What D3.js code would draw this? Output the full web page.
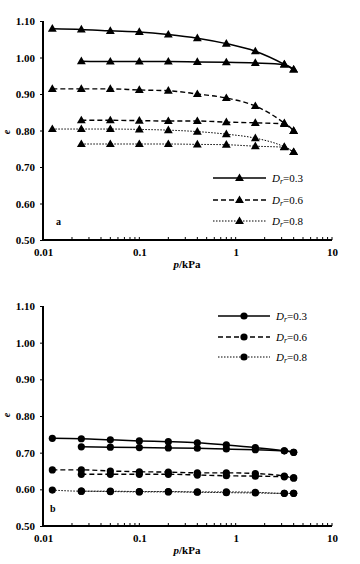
<!DOCTYPE html>
<html><head><meta charset="utf-8">
<script src="https://cdn.jsdelivr.net/npm/d3@7"></script>
<style>body{margin:0;background:#fff}svg{display:block}</style>
</head><body>
<script>
// ---- data ----
const pLoad = [0.0125,0.025,0.05,0.1,0.2,0.4,0.8,1.6,3.2,4.0];
const pUnload = [4.0,3.2,1.6,0.8,0.4,0.2,0.1,0.05,0.025];
const xTicks = [0.01,0.1,1,10];
const yTicks = [0.50,0.60,0.70,0.80,0.90,1.00,1.10];
const seriesNames = ["0.3","0.6","0.8"];
// panel a (triangles)
const aLoad03 = [1.079,1.077,1.073,1.070,1.063,1.053,1.038,1.017,0.981,0.967];
const aUnl03  = [0.967,0.981,0.985,0.987,0.988,0.989,0.989,0.989,0.990];
const aLoad06 = [0.914,0.914,0.914,0.911,0.909,0.900,0.889,0.867,0.820,0.799];
const aUnl06  = [0.799,0.818,0.821,0.823,0.826,0.826,0.827,0.828,0.828];
const aLoad08 = [0.804,0.804,0.804,0.803,0.801,0.797,0.790,0.779,0.755,0.741];
const aUnl08  = [0.741,0.754,0.757,0.761,0.762,0.763,0.763,0.763,0.763];
// panel b (circles)
const bLoad03 = [0.739,0.738,0.735,0.732,0.730,0.727,0.721,0.714,0.705,0.701];
const bUnl03  = [0.701,0.705,0.708,0.710,0.712,0.713,0.714,0.715,0.716];
const bLoad06 = [0.653,0.653,0.650,0.648,0.647,0.645,0.645,0.643,0.636,0.631];
const bUnl06  = [0.631,0.634,0.636,0.637,0.639,0.641,0.641,0.641,0.641];
const bLoad08 = [0.598,0.595,0.595,0.594,0.594,0.593,0.593,0.592,0.589,0.589];
const bUnl08  = [0.589,0.589,0.590,0.591,0.592,0.593,0.593,0.594,0.595];

const W=360,H=564;
const svg=d3.select("body").append("svg").attr("width",W).attr("height",H);
const serif="'Liberation Serif','Times New Roman',serif";
const styles=[{dash:null,w:1.5},{dash:"5,3",w:1.4},{dash:"1.5,1.5",w:1}];

function panel(cfg){
  const x=d3.scaleLog().domain([0.01,10]).range([43,332]);
  const y=d3.scaleLinear().domain([0.5,1.1]).range([cfg.y0,cfg.y1]);
  const g=svg.append("g");
  // y axis
  const ya=g.append("g").attr("transform","translate(43,0)")
    .call(d3.axisLeft(y).tickValues(yTicks).tickFormat(d3.format(".2f")).tickSize(3).tickPadding(5));
  ya.select(".domain").attr("stroke-width",2).attr("d",`M0,${cfg.y1}V${cfg.y0}`);
  ya.selectAll("text").style("font-family",serif).style("font-size","11px").style("font-weight","bold");
  // x axis
  const minor=[];
  for(let d=0.01; d<10; d*=10){for(let k=2;k<=9;k++) minor.push(+(d*k).toPrecision(3));}
  const xa=g.append("g").attr("transform",`translate(0,${cfg.y0})`)
    .call(d3.axisBottom(x).tickValues(xTicks).tickFormat(d=>d3.format("~g")(d)).tickSize(0).tickPadding(8));
  xa.select(".domain").attr("stroke-width",2).attr("d",`M43,0H332`);
  xa.selectAll("text").style("font-family",serif).style("font-size","11px").style("font-weight","bold");
  g.append("g").selectAll("line").data(minor).join("line")
    .attr("x1",d=>x(d)).attr("x2",d=>x(d)).attr("y1",cfg.y0).attr("y2",cfg.y0-3)
    .attr("stroke","#000").attr("stroke-width",1);
  g.append("g").selectAll("line").data(xTicks).join("line")
    .attr("x1",d=>x(d)).attr("x2",d=>x(d)).attr("y1",cfg.y0).attr("y2",cfg.y0-3)
    .attr("stroke","#000").attr("stroke-width",1);
  // axis labels
  const xl=g.append("text").attr("x",187).attr("y",cfg.y0+28).attr("text-anchor","middle")
    .style("font-family",serif).style("font-size","11px").style("font-weight","bold");
  xl.append("tspan").style("font-style","italic").text("p");
  xl.append("tspan").text("/kPa");
  g.append("text").attr("transform",`translate(10,${cfg.eY}) rotate(-90)`).attr("text-anchor","middle")
    .style("font-family",serif).style("font-size","10px").style("font-style","italic").style("font-weight","bold").text("e");
  g.append("text").attr("x",cfg.labX).attr("y",cfg.labY).style("font-family",serif)
    .style("font-size","10px").style("font-weight","bold").text(cfg.label);

  const line=d3.line().x(d=>x(d[0])).y(d=>y(d[1])).curve(d3.curveMonotoneX);
  const marker=(sel,cx,cy)=>{
    if(cfg.shape==="tri") sel.append("path").attr("d",d3.symbol(d3.symbolTriangle,34)()).attr("transform",`translate(${cx},${cy+0.5})`).attr("fill","#000");
    else sel.append("circle").attr("cx",cx).attr("cy",cy).attr("r",3.6).attr("fill","#000");
  };
  cfg.series.forEach((s,i)=>{
    const st=styles[i];
    const load=pLoad.map((p,j)=>[p,s[0][j]]);
    const unl=pUnload.map((p,j)=>[p,s[1][j]]).sort((a,b)=>a[0]-b[0]);
    [load,unl].forEach(pts=>{
      g.append("path").attr("d",line(pts)).attr("fill","none").attr("stroke","#000")
        .attr("stroke-width",st.w).attr("stroke-dasharray",st.dash);
      const mg=g.append("g");
      pts.forEach(d=>marker(mg,x(d[0]),y(d[1])));
    });
  });
  // legend
  seriesNames.forEach((n,i)=>{
    const st=styles[i], ly=cfg.legY[i];
    g.append("line").attr("x1",cfg.legX0).attr("x2",cfg.legX1).attr("y1",ly).attr("y2",ly)
      .attr("stroke","#000").attr("stroke-width",st.w).attr("stroke-dasharray",st.dash);
    const mg=g.append("g");
    marker(mg,(cfg.legX0+cfg.legX1)/2,ly);
    const t=g.append("text").attr("x",cfg.legX1+6).attr("y",ly+4).style("font-family",serif).style("font-size","11px");
    t.append("tspan").style("font-style","italic").text("D");
    t.append("tspan").attr("dy",2).style("font-style","italic").style("font-size","8px").text("r");
    t.append("tspan").attr("dy",-2).text("=" + n);
  });
}

panel({y0:240,y1:21,shape:"tri",label:"a",labX:56,labY:225,eY:132,
  legX0:213,legX1:266,legY:[178,200,221],
  series:[[aLoad03,aUnl03],[aLoad06,aUnl06],[aLoad08,aUnl08]]});
panel({y0:526,y1:306,shape:"dot",label:"b",labX:50,labY:512,eY:415,
  legX0:218,legX1:270,legY:[316,337,357],
  series:[[bLoad03,bUnl03],[bLoad06,bUnl06],[bLoad08,bUnl08]]});
</script>
</body></html>
